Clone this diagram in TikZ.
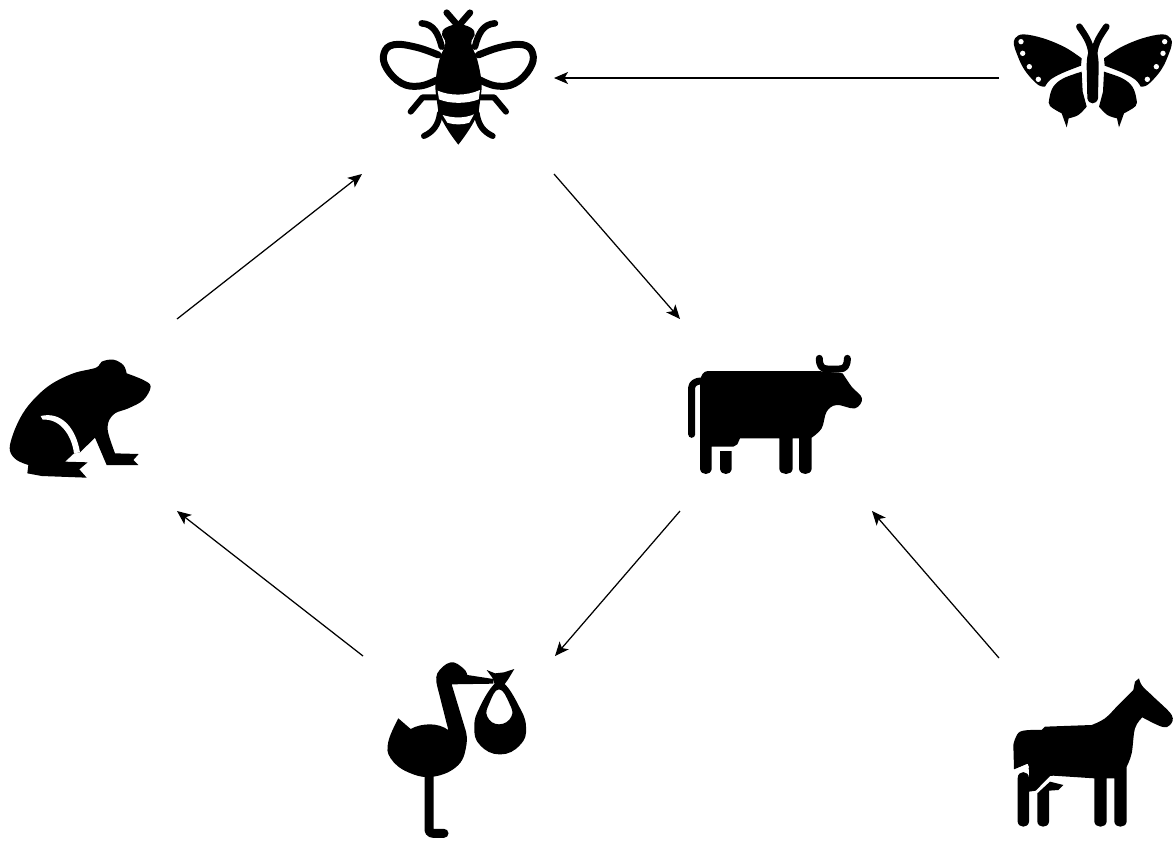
\documentclass[tikz,border=0pt]{standalone}
\usetikzlibrary{arrows.meta}
\tikzset{
  iconbox/.style={minimum size=192pt,inner sep=0pt,outer sep=0pt},
  link/.style={draw=black,line width=1.25pt,-{Stealth[length=14pt,width=12pt,inset=3.5pt]}},
  zoomed/.style={x=0.33333pt,y=-0.33333pt},
  limb/.style={line width=#1,line cap=round,line join=round},
  blank/.style={fill=white,draw=none}
}
\begin{document}
\begin{tikzpicture}[x=1pt,y=-1pt]
\useasboundingbox (0,0) rectangle (1175,841);
\fill[white] (0,0) rectangle (1175,841);
\node[iconbox] (bee) at (458,78) {};
\node[iconbox] (butterfly) at (1095,78) {};
\node[iconbox] (frog) at (81,415) {};
\node[iconbox] (cow) at (776,415) {};
\node[iconbox] (stork) at (459,752) {};
\node[iconbox] (horse) at (1095,754) {};
\path[link] (butterfly.west) -- (bee.east);
\path[link] (frog.north east) -- (bee.south west);
\path[link] (bee.south east) -- (cow.north west);
\path[link] (cow.south west) -- (stork.north east);
\path[link] (stork.north west) -- (frog.south east);
\path[link] (horse.north west) -- (cow.south east);
% bee
\begin{scope}[shift={(370,0)},zoomed]
\foreach \m/\s in {0/1,530/-1}{
\begin{scope}[shift={(\m,0)},xscale=\s]
\draw[limb=7pt] plot[smooth,tension=.7] coordinates{(205,165)(140,142)(72,134)(42,160)(50,205)(95,250)(150,258)(200,240)};
\draw[limb=6.5pt] (262,75) -- (230,38);
\draw[limb=6.5pt] (215,140) .. controls (205,100) and (190,72) .. (155,70);
\draw[limb=6pt] (205,292) -- (158,292) -- (122,335);
\draw[limb=6pt] (210,340) .. controls (205,375) and (190,395) .. (162,408);
\end{scope}}
\fill plot[smooth,tension=.7] coordinates{(265,70)(226,84)(216,105)(226,130)(208,180)(197,240)(197,275)}
  -- (205,335) .. controls (220,375) and (250,415) .. (265,434) .. controls (280,415) and (310,375) .. (326,335) -- (334,275)
  -- plot[smooth,tension=.7] coordinates{(334,275)(334,240)(322,180)(304,130)(314,105)(304,84)(265,70)} -- cycle;
\fill[blank] (203,272) .. controls (240,288) and (290,288) .. (330,270) -- (326,298) .. controls (290,312) and (240,312) .. (207,298) -- cycle;
\fill[blank] (218,345) .. controls (250,355) and (285,355) .. (312,343) -- (298,368) .. controls (275,375) and (255,375) .. (232,368) -- cycle;
\end{scope}
% butterfly
\begin{scope}[shift={(1000,10)},zoomed]
\foreach \m/\s in {0/1,557/-1}{
\begin{scope}[shift={(\m,0)},xscale=\s]
\fill (245,145) -- plot[smooth,tension=.6] coordinates{(245,145)(195,112)(130,85)(70,73)(45,85)(42,105)(50,130)(65,165)(85,195)(115,225)(135,230)}
  -- plot[smooth,tension=.6] coordinates{(135,230)(150,210)(185,190)(243,167)} -- cycle;
\foreach \p in {(63,95),(68,130),(88,170),(115,208)} \fill[blank] \p circle (8);
\fill plot[smooth,tension=.6] coordinates{(245,185)(190,205)(160,230)(148,265)(150,288)(185,310)} -- (200,352) -- plot[smooth,tension=.6] coordinates{(206,325)(235,315)(260,290)} -- (248,245) -- cycle;
\draw[limb=6.5pt] (238,50) .. controls (252,72) and (272,95) .. (275,135);
\end{scope}}
\fill (278,100) .. controls (292,120) and (296,140) .. (296,170) -- (294,265) .. controls (290,285) and (266,285) .. (262,265) -- (260,170) .. controls (260,140) and (264,120) .. (278,100) -- cycle;
\end{scope}
% frog
\begin{scope}[shift={(0,345)},zoomed]
\fill plot[smooth,tension=.6] coordinates{(380,85)(370,60)(340,44)(305,50)(288,68)(220,85)(150,120)(95,170)(60,220)(35,280)(30,318)(50,345)(85,360)}
 -- (82,385) -- (125,393) -- (260,398) -- (238,373) -- (263,352) -- (195,350) -- (222,325) -- (240,322) -- (285,278) -- (320,360) -- (415,360) -- (400,345) -- (416,327) -- (345,325)
 -- plot[smooth,tension=.6] coordinates{(345,325)(325,265)(325,232)(345,205)(385,190)(430,165)(452,125)(430,105)(380,85)} -- cycle;
\fill[blank] (122,213) .. controls (185,198) and (228,250) .. (240,322) -- (222,325) .. controls (215,270) and (180,220) .. (128,224) -- cycle;
\end{scope}
% cow
\begin{scope}[shift={(680,345)},zoomed]
\fill (60,112) .. controls (62,90) and (70,78) .. (85,78) -- (415,78) -- (488,85) -- plot[smooth,tension=.6] coordinates{(488,85)(515,125)(546,160)(525,190)(470,180)(440,200)(425,250)(395,278)} -- (395,372)
  .. controls (392,392) and (360,392) .. (357,372) -- (357,280) -- (338,280) -- (338,372) .. controls (335,392) and (301,392) .. (298,372) -- (298,280) -- (180,280) -- (172,298) -- (160,305) -- (95,305) -- (95,372) .. controls (92,392) and (63,392) .. (60,372) -- cycle;
\draw[limb=7pt] (35,268) -- (35,128) .. controls (35,115) and (50,108) .. (62,108);
\draw[limb=7pt] (418,40) .. controls (418,62) and (425,72) .. (442,72) -- (478,72) .. controls (495,72) and (502,62) .. (502,40);
\fill (120,318) -- (155,318) -- (155,372) .. controls (152,392) and (123,392) .. (120,372) -- cycle;
\end{scope}
% stork
\begin{scope}[shift={(380,655)},zoomed]
\fill (55,190) -- (92,222) .. controls (110,212) and (130,208) .. (150,208) .. controls (170,208) and (190,214) .. (205,225) -- (172,95)
 -- plot[smooth,tension=.7] coordinates{(172,95)(172,55)(212,22)(250,40)(262,60)} -- (340,72) -- (340,86) -- (215,88) -- (255,220)
 -- plot[smooth,tension=.7] coordinates{(255,220)(260,265)(235,330)(160,365)(85,352)(32,310)(25,260)(55,190)} -- cycle;
\draw[limb=9pt] (147,360) -- (147,525) .. controls (147,532) and (152,535) .. (160,535) -- (192,535);
\fill[even odd rule] plot[smooth cycle,tension=.8] coordinates{(345,85)(300,155)(283,215)(300,270)(360,298)(420,270)(438,215)(415,150)(372,85)}
  plot[smooth cycle,tension=.8] coordinates{(357,103)(328,145)(322,185)(357,208)(394,185)(388,145)};
\fill (320,45) -- (345,55) -- (372,52) -- (403,42) -- (385,72) -- (372,90) -- (345,90) -- (337,68) -- cycle;
\end{scope}
% horse
\begin{scope}[shift={(1005,670)},zoomed]
\fill (402,25) -- plot[smooth,tension=.6] coordinates{(402,25)(412,48)(445,80)(500,135)(495,165)(470,170)(412,142)}
  -- plot[smooth,tension=.6] coordinates{(412,142)(390,175)(380,250)(365,290)} -- (365,455) .. controls (362,475) and (330,475) .. (328,455) -- (328,325) -- (305,325) -- (305,455) .. controls (302,475) and (271,475) .. (268,455) -- (268,325) -- (145,317) -- (135,318) -- (92,362) -- (72,365) -- (72,300) -- (68,281) -- (27,298) -- (25,225) -- plot[smooth,tension=.6] coordinates{(25,225)(45,185)(110,180)} -- (120,170) -- (260,165)
  -- plot[smooth,tension=.6] coordinates{(260,165)(300,145)(340,105)(385,60)} -- (390,35) -- cycle;
\fill[blank] (27,300) -- (68,282) -- (72,292) -- (60,300) -- (30,304) -- cycle;
\fill (38,325) .. controls (38,300) and (72,300) .. (72,325) -- (72,455) .. controls (70,475) and (40,475) .. (38,455) -- cycle;
\fill (97,370) -- (135,335) -- (175,345) -- (160,360) -- (132,362) -- (132,455) .. controls (130,475) and (99,475) .. (97,455) -- cycle;
\end{scope}
\end{tikzpicture}
\end{document}
